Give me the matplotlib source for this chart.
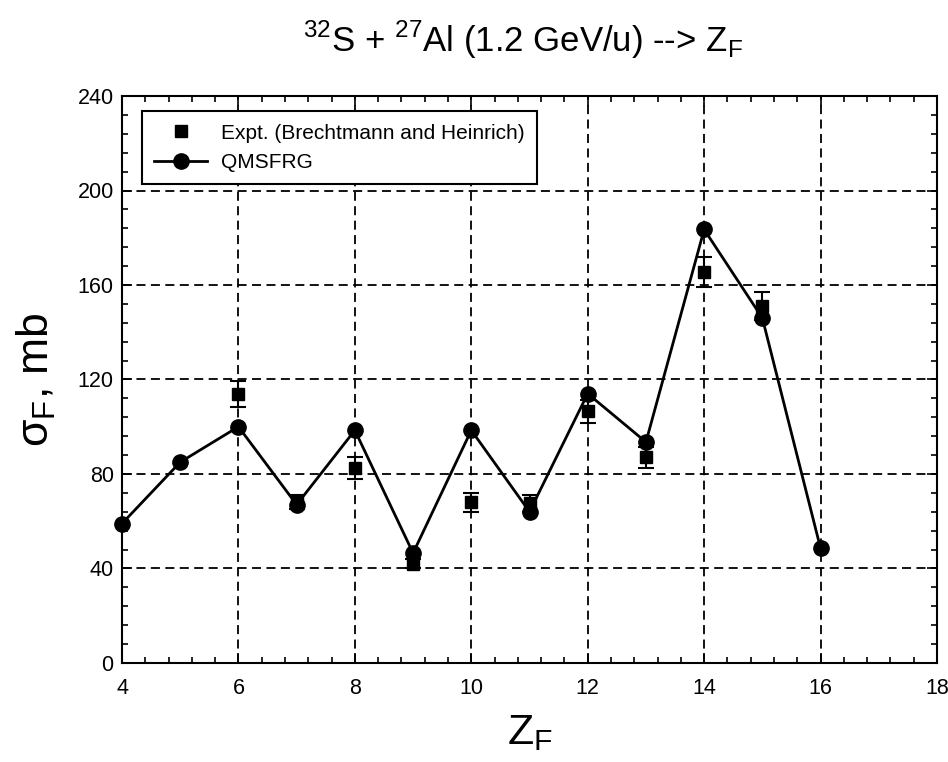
import matplotlib
matplotlib.use("Agg")
import matplotlib.pyplot as plt
from matplotlib.lines import Line2D
from matplotlib.ticker import MultipleLocator

plt.rcParams['font.family'] = ['Liberation Sans', 'DejaVu Sans']

# QMSFRG model cross sections
z_model = [4, 5, 6, 7, 8, 9, 10, 11, 12, 13, 14, 15, 16]
sigma_model = [59, 85, 100, 67, 98.5, 46.5, 98.5, 64, 114, 93.5, 183.5, 146, 48.5]

# Measured cross sections (Brechtmann and Heinrich)
z_expt = [6, 7, 8, 9, 10, 11, 12, 13, 14, 15]
sigma_expt = [114, 68, 82.5, 42, 68, 67.5, 106.5, 87, 165.5, 151]
sigma_err = [5.5, 3, 4.5, 2, 4, 3.5, 5, 4.5, 6.5, 6]

fig = plt.figure(figsize=(9.48, 7.62), dpi=100)
ax = fig.add_axes([0.1287, 0.130, 0.8597, 0.744])

ax.errorbar(z_expt, sigma_expt, yerr=sigma_err, fmt='s', color='black',
            markersize=9, capsize=6, elinewidth=1.5, capthick=1.5, zorder=3)
ax.plot(z_model, sigma_model, '-o', color='black', linewidth=2,
        markersize=11, zorder=4, clip_on=False)

ax.set_xlim(4, 18)
ax.set_ylim(0, 240)
ax.xaxis.set_major_locator(MultipleLocator(2))
ax.xaxis.set_minor_locator(MultipleLocator(0.4))
ax.yaxis.set_major_locator(MultipleLocator(40))
ax.yaxis.set_minor_locator(MultipleLocator(8))
ax.tick_params(which='both', direction='in', top=True, right=True, width=1.2,
               labelsize=15.5)
ax.tick_params(which='major', length=7)
ax.tick_params(which='minor', length=4)
ax.tick_params(axis='x', which='major', pad=11)
ax.tick_params(axis='y', which='major', pad=6)
ax.grid(True, which='major', linestyle=(0, (5, 3)), color='black', linewidth=1.3)
for s in ax.spines.values():
    s.set_linewidth(1.5)

ax.set_xlabel('Z$_\\mathregular{F}$', fontsize=31, labelpad=10)
ax.set_ylabel('σ$_\\mathregular{F}$, mb', fontsize=32, labelpad=14)
fig.text(0.552, 0.947,
         '$^\\mathregular{32}$S + $^\\mathregular{27}$Al (1.2 GeV/u) --> Z$_\\mathregular{F}$',
         ha='center', va='center', fontsize=25)

handles = [
    Line2D([], [], linestyle='none', marker='s', color='black', markersize=9),
    Line2D([], [], linestyle='-', marker='o', color='black', markersize=11, linewidth=2),
]
labels = ['Expt. (Brechtmann and Heinrich)', 'QMSFRG']
leg = ax.legend(handles, labels, loc='upper left', bbox_to_anchor=(0.0245, 0.9735),
                fontsize=15, frameon=True, fancybox=False, edgecolor='black',
                framealpha=1, borderpad=0.6, handlelength=2.5, handletextpad=0.7,
                labelspacing=0.5, borderaxespad=0)
leg.get_frame().set_linewidth(1.5)

fig.savefig('out.png', dpi=100)
